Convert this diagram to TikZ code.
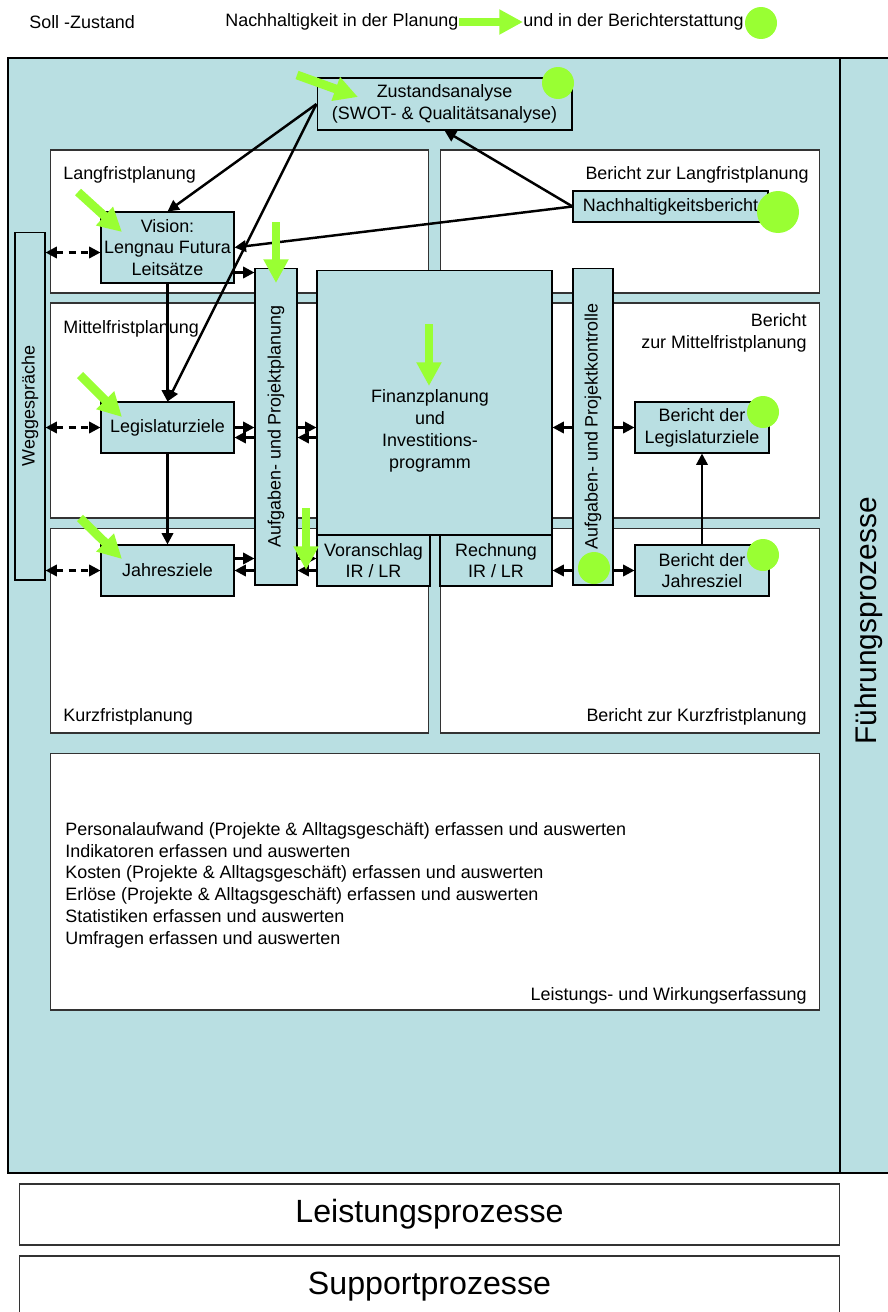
\documentclass[tikz,border=0pt]{standalone}
\usepackage{fontspec}
\setmainfont{Liberation Sans}
\usetikzlibrary{arrows.meta,calc}

\definecolor{tealbg}{RGB}{185,223,226}
\definecolor{limegreen}{RGB}{153,255,51}

\begin{document}
\begin{tikzpicture}[x=0.02cm,y=-0.02cm,
    every node/.style={font=\fontsize{10.2}{12.4}\selectfont},
    panel/.style={draw=black!80,fill=white,line width=0.6pt,inner sep=0pt},
    box/.style={draw=black,fill=tealbg,line width=0.6pt,inner sep=1pt,align=center},
    lbl/.style={inner sep=0pt,align=left},
    big/.style={font=\fontsize{18.3}{22}\selectfont},
    flow/.style={line width=1.4pt,-{Triangle[length=6.5pt,width=6.5pt]}},
    talk/.style={line width=1.4pt,dash pattern=on 4pt off 3pt,{Triangle[length=6.5pt,width=6.5pt]}-{Triangle[length=6.5pt,width=6.5pt]}},
    goal/.style={line width=5pt,draw=limegreen,-{Triangle[length=13.5pt,width=13.5pt]}},
    greendot/.style={circle,fill=limegreen,inner sep=0pt,minimum size=#1},
    greendot/.default=0.64cm]

    \useasboundingbox (0,0) rectangle (888,1312);

    % header
    \node[lbl,anchor=west] (soll)   at (29,22)  {Soll -Zustand};
    \node[lbl,anchor=west] (inplan) at (225,22) {Nachhaltigkeit in der Planung};
    \node[lbl,anchor=west] (inber)  at (523,22) {und in der Berichterstattung};
    \node[greendot] (hdot) at (761,23) {};
    \draw[goal] (inplan.east) -- (inber.west);

    % Fuehrungsprozesse
    \fill[tealbg] (8,58) rectangle (895,1173);
    \draw[line width=0.8pt] (895,58) -- (8,58) -- (8,1173) -- (895,1173);
    \draw[line width=0.8pt] (840,58) -- (840,1173);
    \node[rotate=90,font=\fontsize{17}{20}\selectfont] (fuehr) at (869,621) {Führungsprozesse};

    % panels
    \node[panel,minimum width=7.58cm,minimum height=2.86cm] (lfp)  at (239.5,221.5) {};
    \node[panel,minimum width=7.6cm,minimum height=2.86cm]  (blfp) at (630,221.5) {};
    \node[panel,minimum width=7.58cm,minimum height=4.3cm]  (mfp)  at (239.5,410.5) {};
    \node[panel,minimum width=7.6cm,minimum height=4.3cm]   (bmfp) at (630,410.5) {};
    \node[panel,minimum width=7.58cm,minimum height=4.1cm]  (kfp)  at (239.5,630.5) {};
    \node[panel,minimum width=7.6cm,minimum height=4.1cm]   (bkfp) at (630,630.5) {};
    \node[panel,minimum width=15.4cm,minimum height=5.14cm] (lwe)  at (435,881.5) {};

    \node[lbl,anchor=west] (lfptxt)  at (63,175)  {Langfristplanung};
    \node[lbl,anchor=east] (blfptxt) at (809,175) {Bericht zur Langfristplanung};
    \node[lbl,anchor=west] (mfptxt)  at (63,329)  {Mittelfristplanung};
    \node[lbl,anchor=east,align=right] (bmfptxt) at (807,333) {Bericht\\zur Mittelfristplanung};
    \node[lbl,anchor=west] (kfptxt)  at (63,717)  {Kurzfristplanung};
    \node[lbl,anchor=east] (bkfptxt) at (807,717) {Bericht zur Kurzfristplanung};
    \node[lbl,anchor=east] (lwetxt)  at (807,996) {Leistungs- und Wirkungserfassung};
    \node[lbl,anchor=north west] (lwelist) at (65,822) {Personalaufwand (Projekte \& Alltagsgeschäft) erfassen und auswerten\\
        Indikatoren erfassen und auswerten\\
        Kosten (Projekte \& Alltagsgeschäft) erfassen und auswerten\\
        Erlöse (Projekte \& Alltagsgeschäft) erfassen und auswerten\\
        Statistiken erfassen und auswerten\\
        Umfragen erfassen und auswerten};

    % boxes
    \node[box,minimum width=5.1cm,minimum height=1.04cm] (zust) at (444.5,104) {Zustandsanalyse\\(SWOT- \& Qualitätsanalyse)};
    \node[box,minimum width=2.66cm,minimum height=1.42cm] (vision) at (167.5,247.5) {Vision:\\Lengnau Futura\\Leitsätze};
    \node[box,minimum width=3.9cm,minimum height=0.62cm] (nachh) at (670.5,206.5) {Nachhaltigkeitsbericht};
    \node[box,minimum width=0.6cm,minimum height=6.96cm] (wegg) at (30,406) {\rotatebox{90}{Weggespräche}};
    \node[box,minimum width=0.84cm,minimum height=6.34cm] (aplan) at (276,426.5) {\rotatebox{90}{Aufgaben- und Projektplanung}};
    \node[box,minimum width=4.7cm,minimum height=5.3cm] (finanz) at (434.5,402.5) {};
    \node[lbl,align=center] (fintxt) at (430,431) {Finanzplanung\\und\\Investitions-\\programm};
    \node[box,minimum width=2.26cm,minimum height=1.02cm] (voran) at (373.5,560.5) {Voranschlag\\IR / LR};
    \node[box,minimum width=2.24cm,minimum height=1.02cm] (rechn) at (496,560.5) {Rechnung\\IR / LR};
    \node[box,minimum width=0.8cm,minimum height=6.34cm] (akontr) at (593,426.5) {\rotatebox{90}{Aufgaben- und Projektkontrolle}};
    \node[box,minimum width=2.66cm,minimum height=1.02cm] (legis) at (167.5,427.5) {Legislaturziele};
    \node[box,minimum width=2.66cm,minimum height=1.02cm] (jahres) at (167.5,570.5) {Jahresziele};
    \node[box,minimum width=2.68cm,minimum height=1.02cm] (blegis) at (702,427.5) {Bericht der\\Legislaturziele};
    \node[box,minimum width=2.68cm,minimum height=1.02cm] (bjahr) at (702,570.5) {Bericht der\\Jahresziel};

    % Leistungs- und Supportprozesse
    \node[panel,big,minimum width=16.42cm,minimum height=1.22cm] (leist) at (429.5,1214.5) {Leistungsprozesse};
    \node[panel,big,minimum width=16.42cm,minimum height=1.24cm] (supp) at (429.5,1287) {Supportprozesse};

    % connectors
    \coordinate (vout) at ($(vision.east)+(0,25)$);
    \coordinate (vtalk) at ($(vision.west)+(0,5)$);
    \coordinate (lg1) at (legis.east);
    \coordinate (lg2) at ($(legis.east)+(0,10)$);
    \coordinate (jg1) at ($(jahres.east)+(0,-12)$);
    \coordinate (jg2) at (jahres.east);

    \draw[flow] (zust.west) -- (vision.north);
    \draw[flow] (zust.west) -- (legis.north);
    \draw[flow] (vision.south) -- (legis.north);
    \draw[flow] (legis.south) -- (jahres.north);
    \draw[flow] (nachh.west) -- (zust.south);
    \draw[flow] (nachh.west) -- (vision.east);
    \draw[flow] (vout) -- (vout -| aplan.west);

    \draw[flow] (lg1) -- (lg1 -| aplan.west);
    \draw[flow] (lg2 -| aplan.west) -- (lg2);
    \draw[flow] (lg1 -| aplan.east) -- (lg1 -| finanz.west);
    \draw[flow] (lg2 -| finanz.west) -- (lg2 -| aplan.east);
    \draw[flow] (jg1) -- (jg1 -| aplan.west);
    \draw[flow] (jg2 -| aplan.west) -- (jg2);
    \draw[flow] (jg1 -| aplan.east) -- (jg1 -| voran.west);
    \draw[flow] (jg2 -| voran.west) -- (jg2 -| aplan.east);

    \draw[flow] (lg1 -| akontr.west) -- (lg1 -| finanz.east);
    \draw[flow] (lg1 -| akontr.east) -- (blegis.west);
    \draw[flow] (bjahr.west -| akontr.west) -- (bjahr.west -| rechn.east);
    \draw[flow] (bjahr.west -| akontr.east) -- (bjahr.west);
    \draw[flow] (bjahr.north) -- (blegis.south);

    \draw[talk] (vtalk -| wegg.east) -- (vtalk);
    \draw[talk] (legis.west -| wegg.east) -- (legis.west);
    \draw[talk] (jahres.west -| wegg.east) -- (jahres.west);

    % Nachhaltigkeit: Planung
    \coordinate (gzust1) at (297,75);   \coordinate (gzust2) at (358,97);
    \coordinate (gvis1) at (78,192);    \coordinate (gvis2) at (122,232);
    \coordinate (gplan1) at (276,222);  \coordinate (gplan2) at (276,283);
    \coordinate (gfin1) at (429,324);   \coordinate (gfin2) at (429,386);
    \coordinate (gleg1) at (80,375);    \coordinate (gleg2) at (122,417);
    \coordinate (gjahr1) at (80,518);   \coordinate (gjahr2) at (122,559);
    \coordinate (gvor1) at (306,508);   \coordinate (gvor2) at (306,570);
    \draw[goal] (gzust1) -- (gzust2);
    \draw[goal] (gvis1) -- (gvis2);
    \draw[goal] (gplan1) -- (gplan2);
    \draw[goal] (gfin1) -- (gfin2);
    \draw[goal] (gleg1) -- (gleg2);
    \draw[goal] (gjahr1) -- (gjahr2);
    \draw[goal] (gvor1) -- (gvor2);

    % Nachhaltigkeit: Berichterstattung
    \node[greendot] (dzust) at (558,83) {};
    \node[greendot=0.84cm] (dnachh) at (778,212) {};
    \node[greendot] (dblegis) at (763,412) {};
    \node[greendot] (dbjahr) at (763,555) {};
    \node[greendot] (dkontr) at (594,568) {};
\end{tikzpicture}
\end{document}
